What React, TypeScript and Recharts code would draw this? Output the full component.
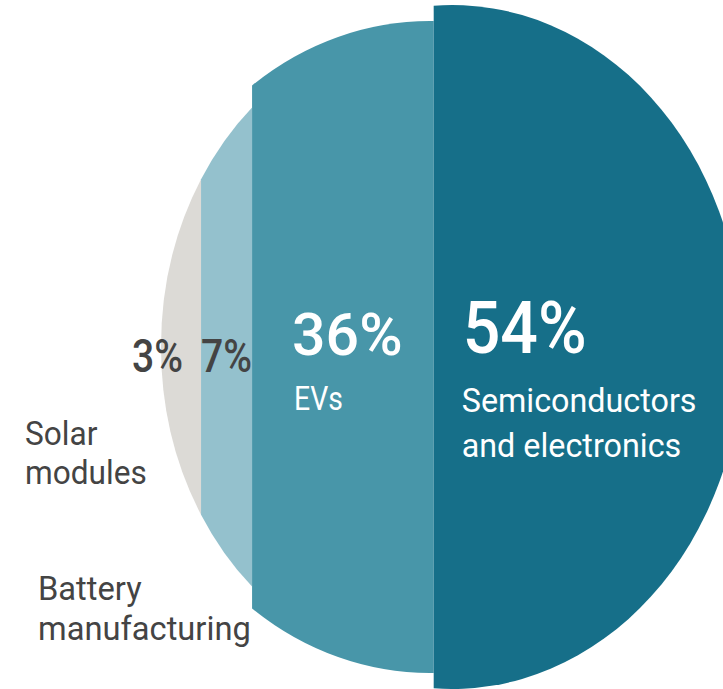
import React from 'react';
import { BarChart, Bar, XAxis, YAxis } from 'recharts';

const CATEGORIES = ['Solar modules', 'Battery manufacturing', 'EVs', 'Semiconductors and electronics'];
const NAME_LINES = [['Solar', 'modules'], ['Battery', 'manufacturing'], ['EVs'], ['Semiconductors', 'and electronics']];
const SHARES = [3, 7, 36, 54];
const KEYS = ['solar', 'battery', 'evs', 'semi'];

const data = [
  KEYS.reduce((row: any, k, i) => ({ ...row, [k]: SHARES[i] }), { name: 'share' }),
];

const W = 723;
const H = 689;
const MARGIN = { top: 5, right: 0, bottom: 0, left: 0 };
const PLOT_W = W - MARGIN.left - MARGIN.right;
// base ellipse used to turn shares into strip edges (equal area)
const CX = 452;
const RX = 291;
const INK = '#444444';
const FONT = 'Roboto, sans-serif';

// each strip is cut from its own, slightly bigger ellipse
const STRIPS = [
  { fill: '#dcdad6', dcx: -23, rx: 268, ry: 319 },
  { fill: '#94c1cd', dcx: -23, rx: 268, ry: 319 },
  { fill: '#4896a9', dcx: -22, rx: 298, ry: 326 },
  { fill: '#166f89', dcx: 0, rx: 291, ry: 342 },
];

const PCT_STYLE = [
  { size: 46, fill: INK, sx: 0.85, anchor: 'end', at: 'right', dx: -18, y: 372 },
  { size: 46, fill: INK, sx: 0.85, anchor: 'middle', at: 'center', dx: 0, y: 372 },
  { size: 59, fill: '#ffffff', sx: 1, anchor: 'start', at: 'left', dx: 40, y: 355 },
  { size: 72, fill: '#ffffff', sx: 0.92, anchor: 'start', at: 'left', dx: 29, y: 353 },
];

const NAME_STYLE = [
  { size: 34, fill: INK, sx: 0.93, at: 'abs', dx: 25, y: 445, lh: 39 },
  { size: 33, fill: INK, sx: 0.99, at: 'abs', dx: 38, y: 600, lh: 40 },
  { size: 33, fill: '#ffffff', sx: 0.86, at: 'left', dx: 42, y: 410, lh: 45 },
  { size: 34, fill: '#ffffff', sx: 0.95, at: 'left', dx: 28, y: 412, lh: 45 },
];

// share of the ellipse area left of normalised position t (-1..1)
const leftArea = (t: number) => (Math.asin(t) + t * Math.sqrt(1 - t * t)) / Math.PI + 0.5;

const chordAt = (p: number) => {
  if (p <= 0) return -1;
  if (p >= 1) return 1;
  let lo = -1;
  let hi = 1;
  for (let k = 0; k < 60; k++) {
    const m = (lo + hi) / 2;
    if (leftArea(m) < p) lo = m;
    else hi = m;
  }
  return (lo + hi) / 2;
};

const toScreen = (px: number) => CX + RX * chordAt((px - MARGIN.left) / PLOT_W);

const stripPath = (x0: number, x1: number, cx: number, cy: number, rx: number, ry: number) => {
  const a = Math.max(x0, cx - rx);
  const b = Math.min(x1, cx + rx);
  const h = (x: number) => ry * Math.sqrt(Math.max(0, 1 - ((x - cx) / rx) ** 2));
  return `M${a},${cy - h(a)} A${rx},${ry} 0 0 1 ${b},${cy - h(b)} L${b},${cy + h(b)} A${rx},${ry} 0 0 1 ${a},${cy + h(a)} Z`;
};

const pickX = (at: string, dx: number, left: number, right: number) => {
  if (at === 'abs') return dx;
  if (at === 'right') return right + dx;
  if (at === 'center') return (left + right) / 2 + dx;
  return left + dx;
};

const Txt = ({ x, y, size, fill, sx, anchor, weight, children }: any) => (
  <text
    transform={`translate(${x},${y}) scale(${sx},1)`}
    textAnchor={anchor}
    fontSize={size}
    fontWeight={weight}
    fill={fill}
    fontFamily={FONT}
  >
    {children}
  </text>
);

const Strip = (props: any) => {
  const { x, y, width, height, series } = props;
  const s = STRIPS[series];
  const left = toScreen(x);
  const right = toScreen(x + width);
  const cy = y + height / 2;
  const pct = PCT_STYLE[series];
  const nm = NAME_STYLE[series];
  return (
    <g>
      <path d={stripPath(left, right, CX + s.dcx, cy, s.rx, s.ry)} fill={s.fill} />
      <Txt
        x={pickX(pct.at, pct.dx, left, right)}
        y={pct.y}
        size={pct.size}
        fill={pct.fill}
        sx={pct.sx}
        anchor={pct.anchor}
        weight={500}
      >
        {`${SHARES[series]}%`}
      </Txt>
      {NAME_LINES[series].map((line, j) => (
        <Txt
          key={line}
          x={pickX(nm.at, nm.dx, left, right)}
          y={nm.y + j * nm.lh}
          size={nm.size}
          fill={nm.fill}
          sx={nm.sx}
          anchor="start"
          weight={400}
        >
          {line}
        </Txt>
      ))}
    </g>
  );
};

export default function App() {
  return (
    <div style={{ position: 'fixed', left: 0, top: 0, width: W, height: H, background: '#ffffff' }}>
      <BarChart
        width={W}
        height={H}
        data={data}
        layout="vertical"
        margin={MARGIN}
        barCategoryGap={0}
        barGap={0}
      >
        <XAxis type="number" domain={[0, 100]} hide />
        <YAxis type="category" dataKey="name" hide />
        {KEYS.map((k, i) => (
          <Bar
            key={k}
            dataKey={k}
            name={CATEGORIES[i]}
            stackId="share"
            isAnimationActive={false}
            shape={(p: any) => <Strip {...p} series={i} />}
          />
        ))}
      </BarChart>
    </div>
  );
}
